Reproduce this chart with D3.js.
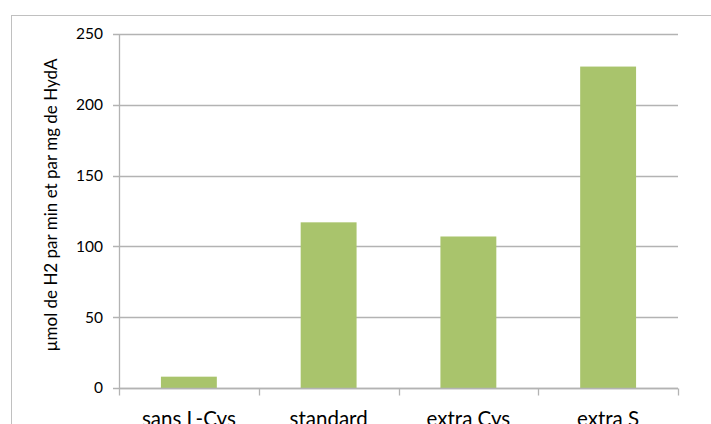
<!DOCTYPE html>
<html>
<head>
<meta charset="utf-8">
<script src="https://cdn.jsdelivr.net/npm/d3@7"></script>
<style>
  body { margin: 0; background: #fff; }
  svg { display: block; font-family: Lato, "Open Sans", sans-serif; }
</style>
</head>
<body>
<svg id="chart"></svg>
<script>
const svg_w = 711;
const svg_h = 424;

// données
const categories = ["sans L-Cys", "standard", "extra Cys", "extra S"];
const values = [8, 117, 107, 227];
const y_ticks = [0, 50, 100, 150, 200, 250];
const y_label = "µmol de H2 par min et par mg de HydA";

const margin = {l:119, r:33, t:34, b:36};
const viz_w = svg_w - margin.l - margin.r;
const viz_h = svg_h - margin.t - margin.b;

const grey = "#b3b3b3";

let svg = d3.select("#chart")
  .attr("width", svg_w)
  .attr("height", svg_h);

// cadre extérieur (coupé à droite et en bas)
svg.append("rect")
  .attr("x", 11.5).attr("y", 15.5)
  .attr("width", 760).attr("height", 500)
  .attr("fill", "none")
  .attr("stroke", "#c0c0c0");

let x_scale = d3.scaleBand()
  .domain(categories)
  .range([0, viz_w])
  .paddingInner(0.6)
  .paddingOuter(0.3);

let y_scale = d3.scaleLinear()
  .domain([0, 250])
  .range([viz_h, 0]);

let g = svg.append("g")
  .attr("transform", `translate(${margin.l},${margin.t})`);

// lignes de grille
g.append("g")
  .selectAll("line")
  .data(y_ticks)
  .enter()
  .append("line")
  .attr("x1", -6)
  .attr("x2", viz_w)
  .attr("y1", d => Math.round(y_scale(d)) + 0.5)
  .attr("y2", d => Math.round(y_scale(d)) + 0.5)
  .attr("stroke", grey)
  .attr("stroke-width", 1.3);

// étiquettes de l'axe y
g.append("g")
  .selectAll("text")
  .data(y_ticks)
  .enter()
  .append("text")
  .attr("x", -16)
  .attr("y", d => y_scale(d))
  .attr("dy", "0.35em")
  .attr("text-anchor", "end")
  .attr("font-size", 15.5)
  .attr("fill", "#000")
  .text(d => d);

// axe vertical
g.append("line")
  .attr("x1", 0.5).attr("x2", 0.5)
  .attr("y1", 0).attr("y2", viz_h)
  .attr("stroke", grey)
  .attr("stroke-width", 1.3);

// barres
g.append("g")
  .selectAll("rect")
  .data(values)
  .enter()
  .append("rect")
  .attr("x", (d, i) => x_scale(categories[i]))
  .attr("y", d => y_scale(d))
  .attr("width", x_scale.bandwidth())
  .attr("height", d => viz_h - y_scale(d))
  .attr("fill", "#a9c46c");

// axe horizontal avec graduations entre les catégories
let bounds = d3.range(categories.length + 1).map(i => i * viz_w / categories.length);
let xa = g.append("g").attr("transform", `translate(0,${Math.round(viz_h) + 0.5})`);
xa.append("line")
  .attr("x1", 0).attr("x2", viz_w)
  .attr("stroke", grey)
  .attr("stroke-width", 1.3);
xa.selectAll(".tick")
  .data(bounds)
  .enter()
  .append("line")
  .attr("x1", d => Math.round(d) + 0.5)
  .attr("x2", d => Math.round(d) + 0.5)
  .attr("y1", 0).attr("y2", 7)
  .attr("stroke", grey)
  .attr("stroke-width", 1.3);
xa.selectAll("text")
  .data(categories)
  .enter()
  .append("text")
  .attr("x", d => x_scale(d) + x_scale.bandwidth() / 2)
  .attr("y", 37)
  .attr("text-anchor", "middle")
  .attr("font-size", 20.5)
  .attr("fill", "#000")
  .text(d => d);

// titre de l'axe y
svg.append("text")
  .attr("transform", `translate(57,205) rotate(-90)`)
  .attr("text-anchor", "middle")
  .attr("font-size", 17)
  .attr("fill", "#000")
  .text(y_label);
</script>
</body>
</html>
